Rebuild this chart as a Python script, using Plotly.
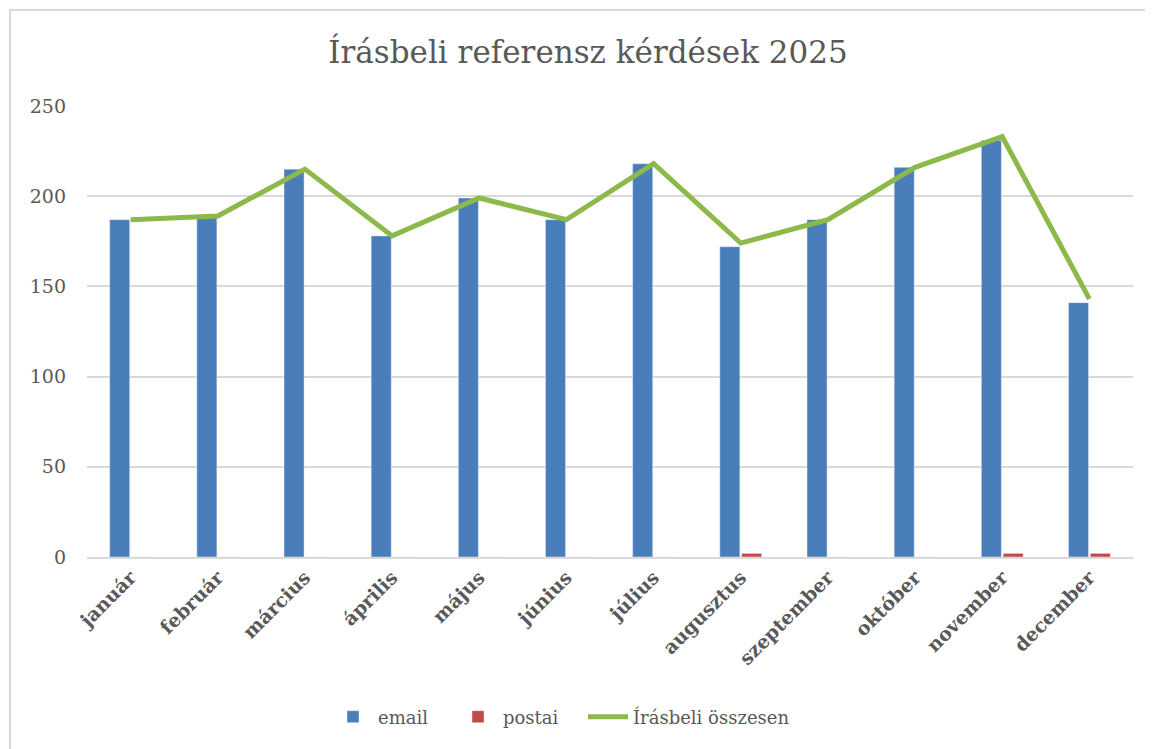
import plotly.graph_objects as go

months = ["január", "február", "március", "április", "május", "június",
          "július", "augusztus", "szeptember", "október", "november", "december"]
email = [187, 189, 215, 178, 199, 187, 218, 172, 187, 216, 231, 141]
postai = [0, 0, 0, 0, 0, 0, 0, 2, 0, 0, 2, 2]
osszesen = [187, 189, 215, 178, 199, 187, 218, 174, 187, 216, 233, 143]
y_ticks = [0, 50, 100, 150, 200, 250]

# the page body adds an 8px offset; work in screenshot coordinates
OFF = 8
SW, SH = 1153, 749
W, H = SW - OFF, SH - OFF
L, R, T, B = 87, 1133, 106, 557  # plot area in screenshot coords

TXT = "#595959"
FONT = "DejaVu Serif"

fig = go.Figure()
fig.add_trace(go.Bar(x=months, y=email, name="email", marker_color="#4A7EBB",
                     legend="legend", showlegend=True))
fig.add_trace(go.Bar(x=months, y=postai, name="postai", marker_color="#BE4B48",
                     legend="legend2", showlegend=True))
fig.add_trace(go.Scatter(x=months, y=osszesen, name="Írásbeli összesen", mode="lines",
                         line=dict(color="#8DB84A", width=5), legend="legend3",
                         showlegend=True))


def px(xs):
    return (xs - L) / (R - L)


def py(ys):
    return (B - ys) / (B - T)


def leg(xs):
    return dict(orientation="h", x=px(xs), xanchor="left", y=py(717), yanchor="middle",
                font=dict(family=FONT, size=18, color=TXT), itemwidth=40,
                bgcolor="rgba(0,0,0,0)")


fig.update_layout(
    width=W, height=H,
    showlegend=True,
    margin=dict(l=L - OFF, r=SW - R, t=T - OFF, b=SH - B, autoexpand=False),
    paper_bgcolor="white", plot_bgcolor="white",
    barmode="group", bargap=0.5, bargroupgap=0.08,
    title=dict(text="Írásbeli referensz kérdések 2025", x=(588 - OFF) / W, xanchor="center",
               y=1 - (52 - OFF) / H, yanchor="middle",
               font=dict(family=FONT, size=31, color=TXT)),
    font=dict(family=FONT, color=TXT),
    legend=leg(328),
    legend2=leg(453),
    legend3=leg(583),
    xaxis=dict(type="category", tickangle=-45, showgrid=False, showline=True,
               linecolor="#d9d9d9", linewidth=2, ticks="",
               tickfont=dict(family=FONT, size=19, color=TXT, weight="bold")),
    yaxis=dict(range=[0, 250], tickvals=y_ticks, showgrid=True, gridcolor="#d9d9d9",
               gridwidth=2, zeroline=False, showline=False, ticks="",
               ticklabelstandoff=20,
               tickfont=dict(family=FONT, size=19, color=TXT)),
    shapes=[dict(type="rect", xref="paper", yref="paper",
                 x0=px(10), x1=px(1180), y0=py(780), y1=py(10),
                 line=dict(color="#d9d9d9", width=2), layer="below")],
)

fig.write_html("out.html")
